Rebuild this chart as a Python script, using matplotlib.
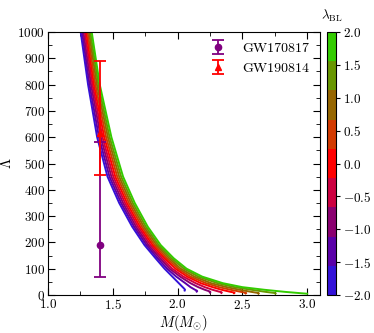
import matplotlib
matplotlib.use("Agg")
import matplotlib.pyplot as plt
from matplotlib.colors import ListedColormap, Normalize
from matplotlib.cm import ScalarMappable

plt.rcParams["font.family"] = "serif"
plt.rcParams["font.serif"] = ["cmr10", "DejaVu Serif"]
plt.rcParams["mathtext.fontset"] = "cm"
plt.rcParams["axes.formatter.use_mathtext"] = True
plt.rcParams["font.size"] = 9.5

# lambda_BL value of each curve
lambda_bl = [-2.0, -1.5, -1.0, -0.5, 0.0, 0.5, 1.0, 1.5, 2.0]

# tidal deformability (Lambda) and mass (M_sun) along each curve
lam_curves = [
    [1000, 800, 600, 450, 350, 260, 190, 140, 100, 70, 45, 30, 24, 20, 17],
    [1000, 800, 600, 450, 350, 260, 190, 140, 100, 70, 45, 30, 20, 17, 15, 13],
    [1000, 800, 600, 450, 350, 260, 190, 140, 100, 70, 45, 30, 20, 15, 13, 11, 9.5],
    [1000, 800, 600, 450, 350, 260, 190, 140, 100, 70, 45, 30, 20, 13, 11, 9.5, 8],
    [1000, 800, 600, 450, 350, 260, 190, 140, 100, 70, 45, 30, 20, 12, 10, 8.5, 7],
    [1000, 800, 600, 450, 350, 260, 190, 140, 100, 70, 45, 30, 20, 12, 9, 7.5, 6],
    [1000, 800, 600, 450, 350, 260, 190, 140, 100, 70, 45, 30, 20, 12, 8, 6.5, 5],
    [1000, 800, 600, 450, 350, 260, 190, 140, 100, 70, 45, 30, 20, 12, 8, 6.5, 5],
    [1000, 800, 600, 450, 350, 260, 190, 140, 100, 70, 45, 30, 20, 12, 7, 5],
]
m_curves = [
    [1.253, 1.310, 1.380, 1.460, 1.550, 1.650, 1.745, 1.830, 1.900, 1.960, 2.010, 2.040, 2.052, 2.058, 2.055],
    [1.264, 1.321, 1.394, 1.475, 1.565, 1.665, 1.761, 1.847, 1.920, 1.990, 2.060, 2.100, 2.135, 2.148, 2.152, 2.148],
    [1.274, 1.333, 1.408, 1.490, 1.580, 1.680, 1.776, 1.865, 1.940, 2.020, 2.100, 2.160, 2.210, 2.240, 2.250, 2.254, 2.250],
    [1.285, 1.344, 1.421, 1.505, 1.595, 1.695, 1.792, 1.882, 1.960, 2.045, 2.140, 2.210, 2.270, 2.320, 2.338, 2.342, 2.338],
    [1.296, 1.355, 1.435, 1.520, 1.610, 1.710, 1.808, 1.900, 1.985, 2.075, 2.180, 2.270, 2.340, 2.410, 2.435, 2.440, 2.436],
    [1.306, 1.366, 1.449, 1.535, 1.625, 1.725, 1.823, 1.917, 2.005, 2.100, 2.220, 2.320, 2.410, 2.490, 2.525, 2.530, 2.526],
    [1.317, 1.378, 1.463, 1.550, 1.640, 1.740, 1.839, 1.935, 2.025, 2.130, 2.260, 2.380, 2.480, 2.570, 2.620, 2.628, 2.624],
    [1.327, 1.389, 1.476, 1.565, 1.655, 1.755, 1.854, 1.952, 2.050, 2.160, 2.310, 2.440, 2.570, 2.680, 2.745, 2.758, 2.755],
    [1.338, 1.400, 1.490, 1.580, 1.670, 1.770, 1.870, 1.970, 2.070, 2.190, 2.350, 2.500, 2.670, 2.830, 2.950, 3.000],
]

# GW constraints on Lambda_1.4
gw_names = ["GW170817", "GW190814"]
gw_mass = [1.40, 1.40]
gw_lambda = [190, 616]
gw_err_lo = [120, 158]
gw_err_hi = [390, 273]
gw_colors = ["#800080", "#ff0000"]
gw_markers = ["o", "^"]

band_colors = ["#3312d8", "#5a00a8", "#8a0070", "#cc0040", "#ff0000",
               "#d23a00", "#966600", "#689600", "#33cc00"]
cmap = ListedColormap(band_colors)
norm = Normalize(vmin=-2, vmax=2)

fig = plt.figure(figsize=(3.74, 3.33), dpi=100)
ax = fig.add_axes([0.128, 0.114, 0.728, 0.790])
cax = fig.add_axes([0.874, 0.114, 0.024, 0.790])

for lb, lam, m in zip(lambda_bl, lam_curves, m_curves):
    ax.plot(m, lam, color=cmap(norm(lb)), lw=1.4)

for i in range(len(gw_names)):
    ax.errorbar(gw_mass[i], gw_lambda[i],
                yerr=[[gw_err_lo[i]], [gw_err_hi[i]]],
                fmt=gw_markers[i], color=gw_colors[i], ms=4.5,
                capsize=4, elinewidth=1.3, capthick=1.3,
                label=gw_names[i], zorder=5 + i)

ax.set_xlim(1.0, 3.1)
ax.set_ylim(0, 1000)
ax.set_xticks([1.0, 1.5, 2.0, 2.5, 3.0])
ax.set_yticks(range(0, 1001, 100))
ax.set_xticks([1.25, 1.75, 2.25, 2.75], minor=True)
ax.set_yticks(range(50, 1000, 100), minor=True)
ax.tick_params(which="both", direction="in", top=True, right=True, pad=2)
ax.tick_params(which="major", length=5)
ax.tick_params(which="minor", length=3)
ax.set_xlabel(r"$M(M_{\odot})$", fontsize=10.5, labelpad=1)
ax.set_ylabel(r"$\Lambda$", fontsize=10.5)
ax.yaxis.set_label_coords(-0.125, 0.5)

ax.legend(loc="upper right", frameon=False, fontsize=10,
          handletextpad=0.8, borderaxespad=0.35)

sm = ScalarMappable(norm=norm, cmap=cmap)
cb = fig.colorbar(sm, cax=cax, ticks=[-2, -1.5, -1, -0.5, 0, 0.5, 1, 1.5, 2])
cb.ax.tick_params(length=3, pad=2)
cb.ax.set_title(r"$\lambda_{\rm BL}$", fontsize=9.5, pad=9)

fig.savefig("out.png", dpi=100)
